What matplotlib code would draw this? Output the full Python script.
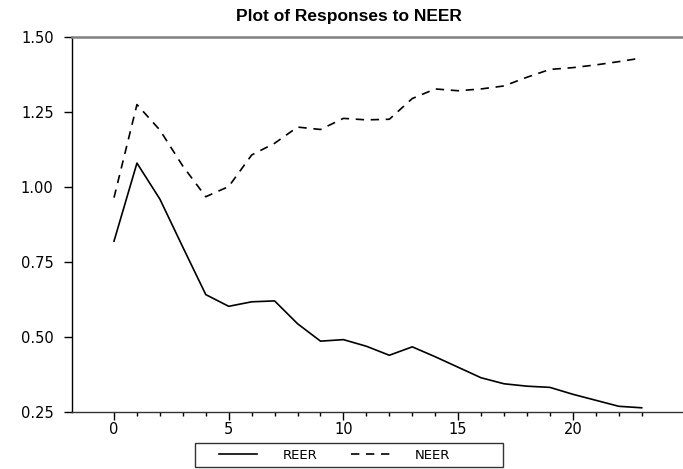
import numpy as np
import matplotlib
matplotlib.use("Agg")
import matplotlib.pyplot as plt
from matplotlib.patches import Rectangle

# impulse responses, periods 0..23
periods = np.arange(24)
reer = [0.82, 1.08, 0.96, 0.80, 0.642, 0.603, 0.618, 0.621, 0.545, 0.487,
        0.492, 0.47, 0.44, 0.468, 0.435, 0.40, 0.365, 0.345, 0.337, 0.333,
        0.31, 0.29, 0.27, 0.265]
neer = [0.965, 1.275, 1.19, 1.07, 0.968, 1.002, 1.107, 1.146, 1.2, 1.192,
        1.229, 1.224, 1.226, 1.295, 1.327, 1.321, 1.327, 1.337, 1.366, 1.392,
        1.398, 1.407, 1.418, 1.43]
yticks = [0.25, 0.50, 0.75, 1.00, 1.25, 1.50]
xticks = [0, 5, 10, 15, 20]

W, H = 683, 469
fig = plt.figure(figsize=(W / 100, H / 100), dpi=100)
ax = fig.add_axes([71.7 / W, 56.7 / H, (W - 71.7) / W, (412.3 - 37) / H])

ln1, = ax.plot(periods, reer, color="black", lw=1.2, label="REER")
ln2, = ax.plot(periods, neer, color="black", lw=1.2, ls=(0, (5, 4)), label="NEER")

ax.set_xlim(-1.844, 24.8)
ax.set_ylim(0.25, 1.50)
ax.set_yticks(yticks)
ax.set_yticklabels(["%.2f" % v for v in yticks])
ax.set_xticks(xticks)
ax.set_xticks(periods, minor=True)

ax.spines["right"].set_visible(False)
ax.spines["top"].set_color("#808080")
ax.spines["top"].set_linewidth(1.8)
ax.spines["left"].set_linewidth(1.0)
ax.spines["bottom"].set_color("#333333")
ax.spines["bottom"].set_linewidth(1.0)

ax.tick_params(axis="y", direction="out", length=6, width=1, pad=7, labelsize=10.5)
ax.tick_params(axis="x", which="major", direction="out", length=5.5, width=1, pad=1.5, labelsize=10.5)
ax.tick_params(axis="x", which="minor", direction="out", length=3, width=1)
ax.yaxis.get_major_ticks()[-1].tick1line.set_color("#808080")

fig.text(349 / W, 1 - 16 / H, "Plot of Responses to NEER", ha="center", va="center",
         fontsize=12.5, fontweight="bold", family="Liberation Sans")

# legend frame below the plot
fig.patches.append(Rectangle((195 / W, 2 / H), 308 / W, 24 / H, transform=fig.transFigure,
                             fill=False, edgecolor="#333333", lw=1.0))
fig.legend(handles=[ln1, ln2], loc="center left", bbox_to_anchor=(219 / W, 14 / H),
           ncol=2, frameon=False, borderpad=0, borderaxespad=0, fontsize=9.5,
           handlelength=2.9, handletextpad=1.9, columnspacing=2.6)

fig.savefig("out.png", dpi=100)
